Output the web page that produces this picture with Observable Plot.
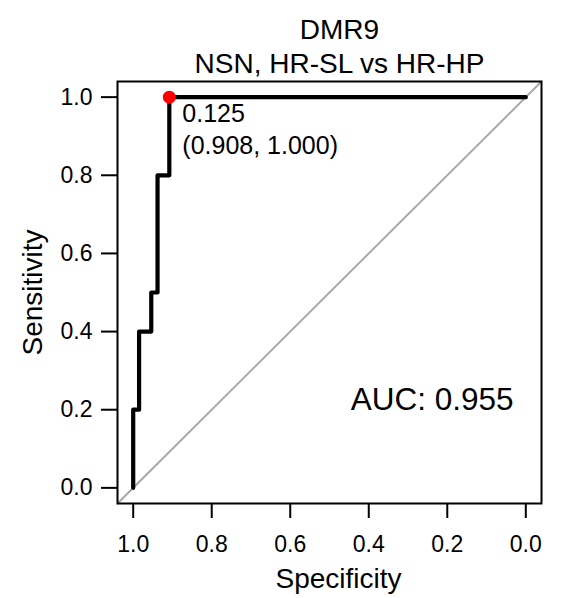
<!DOCTYPE html>
<html><head><meta charset="utf-8">
<script src="https://cdn.jsdelivr.net/npm/d3@7"></script>
<script src="https://cdn.jsdelivr.net/npm/@observablehq/plot@0.6"></script>
<style>
html,body{margin:0;padding:0;background:#fff;}
#chart svg [aria-label^="x-axis"] line, #chart svg [aria-label^="y-axis"] line,
#chart svg [aria-label^="x-axis tick"] path, #chart svg [aria-label^="y-axis tick"] path {stroke-width:2px;stroke:#000;}
</style></head><body><div id="chart"></div>
<script>
// ---- data ----
const titleLines = ["DMR9", "NSN, HR-SL vs HR-HP"];
const specificity = [1.000, 1.000, 0.985, 0.985, 0.954, 0.954, 0.938, 0.938, 0.908, 0.908, 0.000];
const sensitivity = [0.0, 0.2, 0.2, 0.4, 0.4, 0.5, 0.5, 0.8, 0.8, 1.0, 1.0];
const bestThreshold = 0.125;
const bestSpecificity = 0.908;
const bestSensitivity = 1.000;
const aucValue = 0.955;
const tickValues = [1.0, 0.8, 0.6, 0.4, 0.2, 0.0];
const xLabel = "Specificity";
const yLabel = "Sensitivity";

// ---- derived tables ----
const xDomain = [1.04, -0.04];
const yDomain = [-0.04, 1.04];
const roc = specificity.map((s, i) => ({spec: s, sens: sensitivity[i]}));
const diag = xDomain.map(s => ({spec: s, sens: 1 - s}));
const best = [{spec: bestSpecificity, sens: bestSensitivity,
  label: `${bestThreshold.toFixed(3)}\n(${bestSpecificity.toFixed(3)}, ${bestSensitivity.toFixed(3)})`}];
const fmt = d3.format(".1f");

const chart = Plot.plot({
  width: 566, height: 598,
  marginLeft: 117, marginRight: 25, marginTop: 81, marginBottom: 95,
  style: {fontFamily: "'Liberation Sans', Arial, sans-serif", fontSize: "23px", color: "black", background: "white"},
  x: {domain: xDomain, ticks: tickValues, tickFormat: fmt, tickSize: 15, tickPadding: 17, label: null},
  y: {domain: yDomain, ticks: tickValues, tickFormat: fmt, tickSize: 16, tickPadding: 9, label: null},
  marks: [
    Plot.line(diag, {x: "spec", y: "sens", stroke: "#a9a9a9", strokeWidth: 2}),
    Plot.line(roc, {x: "spec", y: "sens", stroke: "black", strokeWidth: 4.2, strokeLinejoin: "round", strokeLinecap: "round"}),
    Plot.dot(best, {x: "spec", y: "sens", r: 6.5, fill: "#ff0000", stroke: "none"}),
    Plot.text(best, {x: "spec", y: "sens", text: "label", textAnchor: "start", lineAnchor: "top",
      lineHeight: 1.28, fontSize: 25, dx: 13, dy: 2, fill: "black"}),
    Plot.text([`AUC: ${aucValue.toFixed(3)}`], {x: d => 0.446, y: d => 0.2, text: d => d,
      textAnchor: "start", lineAnchor: "bottom", fontSize: 31.5, fill: "black"}),
    Plot.frame({stroke: "black", strokeWidth: 2}),
    Plot.text([titleLines.join("\n")], {frameAnchor: "top", text: d => d, textAnchor: "middle", lineAnchor: "bottom",
      lineHeight: 34 / 28, fontSize: 28, dx: 10, dy: -9, fill: "black"}),
    Plot.text([xLabel], {frameAnchor: "bottom", text: d => d, textAnchor: "middle", lineAnchor: "bottom",
      fontSize: 28, dx: 9, dy: 84, fill: "black"}),
    Plot.text([yLabel], {frameAnchor: "left", text: d => d, textAnchor: "middle", lineAnchor: "bottom", rotate: -90,
      fontSize: 28, dx: -76, fill: "black"})
  ]
});
document.getElementById("chart").appendChild(chart);
</script></body></html>
